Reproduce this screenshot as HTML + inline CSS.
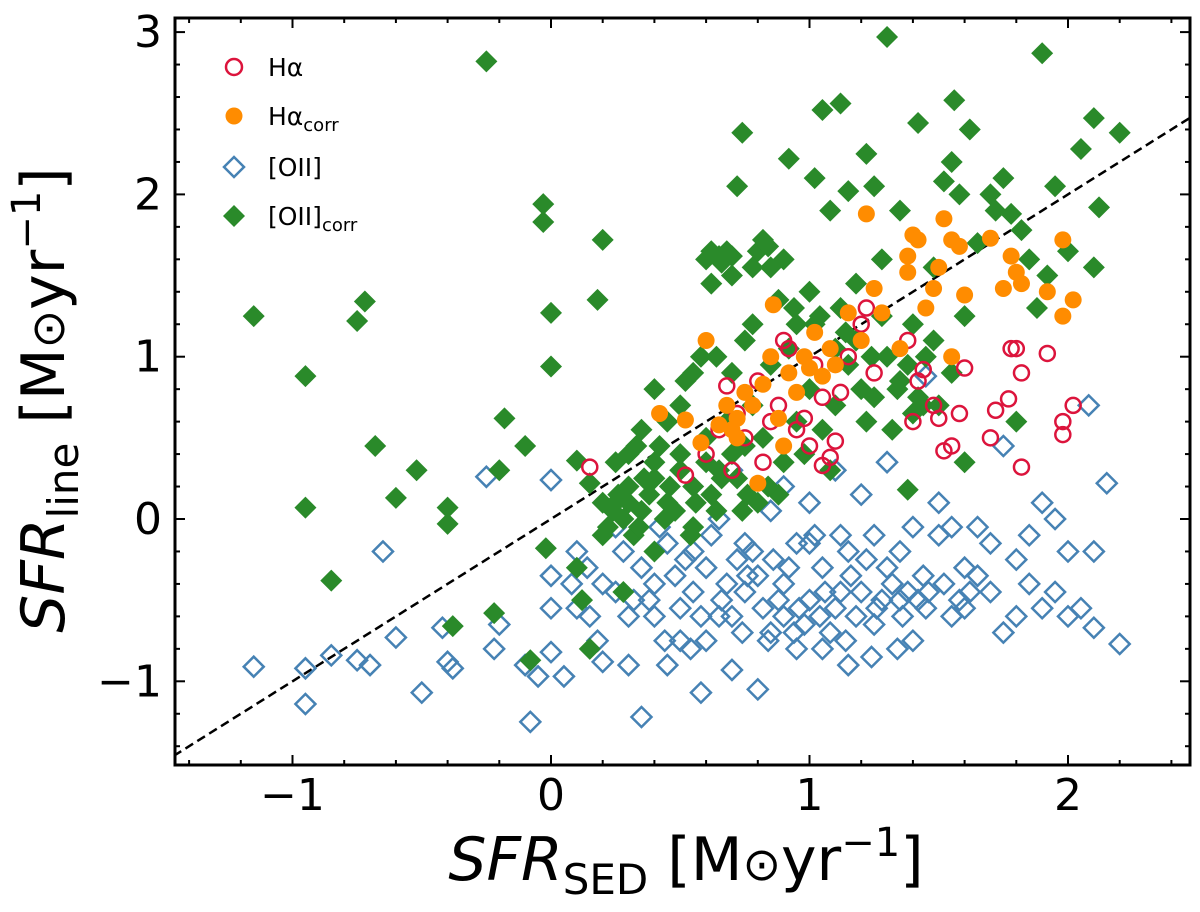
<!DOCTYPE html>
<html><head><meta charset="utf-8"><style>
body{margin:0;background:#fff;}
svg{display:block;font-family:"DejaVu Sans","Liberation Sans",sans-serif;}
</style></head><body>
<svg id="chart" width="1200" height="912" viewBox="0 0 1200 912" xmlns="http://www.w3.org/2000/svg">
<g id="marks"></g>
<g id="axes"></g>
<text transform="translate(64,400) rotate(-90)" text-anchor="middle" font-size="60"><tspan font-style="italic">SFR</tspan><tspan font-size="42" dy="14">line</tspan><tspan dy="-14"> [M</tspan><tspan font-size="46">⊙</tspan><tspan>yr</tspan><tspan font-size="40" dy="-24">−1</tspan><tspan dy="24">]</tspan></text>
<text x="686" y="880" text-anchor="middle" font-size="60"><tspan font-style="italic">SFR</tspan><tspan font-size="42" dy="14">SED</tspan><tspan dy="-14"> [M</tspan><tspan font-size="46">⊙</tspan><tspan>yr</tspan><tspan font-size="40" dy="-24">−1</tspan><tspan dy="24">]</tspan></text>
<g font-size="25">
  <circle cx="234" cy="67" r="8" fill="none" stroke="#dc143c" stroke-width="2.5"/>
  <text x="268" y="76">Hα</text>
  <circle cx="234" cy="116" r="8.5" fill="#ff8c00"/>
  <text x="268" y="125">Hα<tspan font-size="18" dy="6">corr</tspan></text>
  <path d="M234,157 l10,10 l-10,10 l-10,-10 z" fill="none" stroke="#4682b4" stroke-width="2.5"/>
  <text x="268" y="176">[OII]</text>
  <path d="M234,205 l11,11 l-11,11 l-11,-11 z" fill="#2a8a2a"/>
  <text x="268" y="225">[OII]<tspan font-size="18" dy="6">corr</tspan></text>
</g>
</svg>
<script>
const xTicks=[-1,0,1,2];
const yTicks=[-1,0,1,2,3];
const oiiX=[-1.15,-0.95,-0.95,-0.85,-0.75,-0.7,-0.65,-0.6,-0.5,-0.42,-0.4,-0.38,-0.22,-0.2,-0.25,-0.1,-0.08,-0.05,0,0,0,0,0.05,0.1,0.15,0.2,0.25,0.3,0.35,0.4,0.45,0.5,0.55,0.58,0.6,0.65,0.7,0.75,0.8,0.85,0.9,0.95,1.0,1.05,1.1,1.15,1.2,1.25,1.3,1.35,1.4,1.45,1.5,1.55,1.6,1.65,1.7,1.75,1.8,1.85,1.9,1.95,2.0,2.05,2.1,2.15,2.2,2.08,1.45,1.75,1.8,1.35,1.25,1.15,1.05,0.95,0.85,0.75,0.65,0.55,0.45,0.35,0.25,0.8,0.9,1.0,1.2,1.4,1.6,1.7,0.7,0.6,0.5,0.4,0.3,0.2,0.1,1.1,1.3,1.5,0.9,0.7,1.0,1.9,2.0,1.55,1.65,1.85,1.95,2.1,1.42,1.38,1.12,0.98,0.88,0.78,0.68,0.58,0.48,0.38,0.28,1.28,1.18,1.08,0.62,0.72,0.82,0.92,1.02,1.12,1.22,1.32,0.52,0.42,0.66,0.76,0.86,0.96,1.06,1.16,1.26,1.36,1.46,0.18,0.08,0.14,0.32,0.44,0.54,0.74,0.84,0.94,1.04,1.14,1.24,1.34,1.44,1.52,1.58,1.62];
const oiiY=[-0.91,-0.92,-1.14,-0.84,-0.87,-0.9,-0.2,-0.73,-1.07,-0.67,-0.88,-0.92,-0.8,-0.65,0.26,-0.9,-1.25,-0.97,0.24,-0.35,-0.55,-0.82,-0.97,-0.2,-0.6,-0.88,-0.45,-0.9,-1.22,-0.6,-0.9,-0.75,-0.45,-1.07,-0.3,-0.6,-0.93,-0.45,-1.05,-0.7,-0.4,-0.8,-0.15,-0.8,-0.55,-0.9,-0.45,-0.65,-0.3,-0.5,-0.75,-0.55,-0.1,-0.6,-0.3,-0.05,-0.45,-0.7,-0.25,-0.4,0.1,-0.45,-0.2,-0.55,-0.67,0.22,-0.77,0.7,0.88,0.45,-0.6,-0.2,-0.1,-0.2,-0.3,-0.15,0.05,-0.15,0.0,-0.2,-0.15,-0.3,-0.05,-0.35,-0.6,-0.5,0.15,-0.05,-0.55,-0.15,-0.6,-0.75,-0.55,-0.4,-0.6,-0.4,-0.55,0.3,0.35,0.1,0.2,0.3,0.1,-0.55,-0.6,-0.05,-0.35,-0.1,0.0,-0.2,-0.5,-0.45,-0.1,-0.65,-0.5,-0.2,-0.4,-0.6,-0.35,-0.5,-0.2,-0.5,-0.6,-0.7,-0.1,-0.25,-0.55,-0.3,-0.1,-0.45,-0.25,-0.4,-0.25,-0.05,-0.5,-0.35,-0.25,-0.55,-0.45,-0.35,-0.55,-0.6,-0.45,-0.75,-0.4,-0.3,-0.5,-0.75,-0.8,-0.7,-0.75,-0.7,-0.6,-0.75,-0.85,-0.8,-0.35,-0.4,-0.5,-0.45];
const oiiCorrX=[-1.15,-0.95,-0.95,-0.85,-0.75,-0.72,-0.68,-0.6,-0.52,-0.4,-0.4,-0.38,-0.25,-0.22,-0.2,-0.18,-0.1,-0.08,-0.03,-0.03,-0.02,0,0,0.1,0.1,0.12,0.15,0.15,0.18,0.2,0.2,0.25,0.28,0.3,0.35,0.4,0.4,0.45,0.5,0.55,0.55,0.6,0.62,0.65,0.68,0.7,0.72,0.74,0.75,0.78,0.8,0.82,0.85,0.88,0.9,0.92,0.95,0.95,1.0,1.02,1.05,1.08,1.1,1.12,1.15,1.18,1.2,1.22,1.25,1.28,1.3,1.35,1.38,1.4,1.42,1.45,1.48,1.52,1.55,1.56,1.58,1.6,1.62,1.65,1.7,1.72,1.75,1.78,1.8,1.82,1.85,1.88,1.9,1.92,1.95,2.0,2.05,2.1,2.1,2.12,2.2,0.3,0.35,0.4,0.45,0.5,0.55,0.6,0.65,0.7,0.75,0.8,0.85,0.9,1.0,1.05,1.1,1.15,1.25,1.3,1.35,1.4,1.5,0.28,0.32,0.38,0.42,0.48,0.52,0.58,0.62,0.68,0.72,0.78,0.82,0.88,0.92,0.98,1.02,1.08,1.12,1.18,1.22,1.28,1.32,1.38,1.42,1.48,1.55,1.6,0.2,0.22,0.25,0.33,0.26,0.36,0.46,0.56,0.66,0.76,0.34,0.44,0.54,0.64,0.74,0.84,0.24,0.3,0.4,0.5,0.6,0.7,0.62,0.66,0.7,0.78,0.84,0.64,0.94,1.04,1.14,1.24,1.34,1.44];
const oiiCorrY=[1.25,0.88,0.07,-0.38,1.22,1.34,0.45,0.13,0.3,0.07,-0.03,-0.66,2.82,-0.58,0.3,0.62,0.45,-0.87,1.94,1.83,-0.18,1.27,0.94,0.36,-0.3,-0.5,-0.8,0.22,1.35,1.72,-0.1,0.1,-0.45,0.4,0.55,0.8,-0.2,0.1,0.3,0.9,-0.05,1.6,1.45,1.62,1.65,1.5,2.05,2.38,1.1,0.7,1.65,1.72,1.55,1.35,1.6,2.22,1.2,0.6,1.4,2.1,2.52,1.9,1.05,2.56,2.02,1.45,0.8,2.25,2.05,1.6,2.97,1.9,0.18,1.2,2.44,1.0,1.55,2.08,2.2,2.58,2.0,1.25,2.4,1.7,2.0,1.9,2.1,1.88,0.6,1.78,1.6,1.3,2.87,1.5,2.05,1.65,2.28,1.55,2.47,1.92,2.38,0.2,0.05,0.35,0.6,0.7,0.2,0.5,0.3,0.9,0.45,0.1,0.95,0.35,0.8,0.55,0.7,0.95,0.75,1.0,0.85,0.65,0.7,0.0,-0.1,0.15,0.45,0.05,0.85,1.0,0.15,0.6,0.25,1.2,0.5,0.15,1.05,0.4,1.2,0.3,1.3,1.1,0.6,1.25,0.55,0.95,0.75,1.1,0.9,0.35,0.1,-0.05,0.35,0.45,0.15,0.25,0.2,0.1,0.25,0.15,-0.05,0.0,-0.1,0.05,0.05,0.2,0.05,0.1,0.25,0.4,0.35,0.4,1.65,1.58,1.62,1.55,1.68,1.0,1.3,1.25,1.15,1.0,0.8,0.7];
const haX=[0.15,0.52,0.6,0.65,0.68,0.7,0.72,0.75,0.8,0.82,0.85,0.88,0.9,0.92,0.95,0.98,1.0,1.02,1.05,1.05,1.08,1.1,1.12,1.15,1.2,1.22,1.25,1.38,1.4,1.42,1.44,1.48,1.5,1.52,1.55,1.58,1.6,1.7,1.72,1.77,1.78,1.82,1.82,1.92,1.98,1.98,2.02,1.8];
const haY=[0.32,0.27,0.4,0.55,0.82,0.3,0.65,0.5,0.85,0.35,0.6,0.7,1.1,1.05,0.55,0.62,0.45,0.95,0.75,0.33,0.38,0.48,0.78,1.0,1.2,1.3,0.9,1.1,0.6,0.85,0.92,0.7,0.62,0.42,0.45,0.65,0.93,0.5,0.67,0.74,1.05,0.9,0.32,1.02,0.52,0.6,0.7,1.05];
const haCorrX=[0.42,0.52,0.58,0.6,0.65,0.68,0.7,0.72,0.72,0.75,0.78,0.8,0.82,0.85,0.86,0.88,0.9,0.92,0.95,0.98,1.0,1.02,1.05,1.08,1.1,1.15,1.2,1.25,1.28,1.22,1.38,1.38,1.4,1.42,1.45,1.48,1.5,1.52,1.55,1.58,1.6,1.7,1.75,1.78,1.8,1.82,1.92,1.98,1.98,2.02,1.35,1.55];
const haCorrY=[0.65,0.61,0.47,1.1,0.58,0.7,0.55,0.5,0.62,0.78,0.7,0.22,0.83,1.0,1.32,0.62,0.45,0.9,0.78,1.0,0.93,1.15,0.88,1.05,0.95,1.27,1.1,1.42,1.27,1.88,1.62,1.52,1.75,1.72,1.3,1.42,1.55,1.85,1.72,1.68,1.38,1.73,1.42,1.62,1.52,1.45,1.4,1.72,1.25,1.35,1.05,1.0];

const L=175,R=1190,T=18,B=765;
const xs=v=>551+v*258.5, ys=v=>519-v*162.3;
const NS='http://www.w3.org/2000/svg';
const marks=document.getElementById('marks'), axes=document.getElementById('axes');
function mk(tag,attrs,parent){const e=document.createElementNS(NS,tag);for(const k in attrs)e.setAttribute(k,attrs[k]);parent.appendChild(e);return e;}
const clip=mk('clipPath',{id:'pc'},marks);mk('rect',{x:L,y:T,width:R-L,height:B-T},clip);
const g=mk('g',{'clip-path':'url(#pc)'},marks);
const x0=-1.46,x1=2.5;
const diag=mk('line',{x1:xs(x0),y1:ys(x0),x2:xs(x1),y2:ys(x1),stroke:'#000','stroke-width':2.5,'stroke-dasharray':'9,5'},g);


function diamond(cx,cy,r){return `M${cx},${cy-r} L${cx+r},${cy} L${cx},${cy+r} L${cx-r},${cy} Z`;}
oiiX.forEach((v,i)=>{const p=mk('path',{d:diamond(xs(v),ys(oiiY[i]),10),fill:'none',stroke:'#4682b4','stroke-width':2.5},g);

});
oiiCorrX.forEach((v,i)=>{const p=mk('path',{d:diamond(xs(v),ys(oiiCorrY[i]),11),fill:'#2a8a2a'},g);

});
haX.forEach((v,i)=>{const p=mk('circle',{cx:xs(v),cy:ys(haY[i]),r:7.5,fill:'none',stroke:'#dc143c','stroke-width':2.5},g);

});
haCorrX.forEach((v,i)=>{const p=mk('circle',{cx:xs(v),cy:ys(haCorrY[i]),r:8.5,fill:'#ff8c00'},g);

});
const fr=mk('rect',{x:L,y:T,width:R-L,height:B-T,fill:'none',stroke:'#000','stroke-width':3},axes);


for(let k=-15;k<=25;k++){const v=k/10;if(Math.abs(k%2)===1)continue;const px=xs(v);if(px<L||px>R)continue;const maj=k%10===0;const len=maj?10:5;
mk('line',{x1:px,y1:B,x2:px,y2:B-len,stroke:'#000','stroke-width':2},axes);mk('line',{x1:px,y1:T,x2:px,y2:T+len,stroke:'#000','stroke-width':2},axes);}
for(let k=-16;k<=32;k+=2){const v=k/10;const py=ys(v);if(py<T||py>B)continue;const maj=k%10===0;const len=maj?10:5;
mk('line',{x1:L,y1:py,x2:L+len,y2:py,stroke:'#000','stroke-width':2},axes);mk('line',{x1:R,y1:py,x2:R-len,y2:py,stroke:'#000','stroke-width':2},axes);}
const fmt=v=>v<0?'−'+Math.abs(v):String(v);
xTicks.forEach(v=>{const t=mk('text',{x:xs(v),y:810,'text-anchor':'middle','font-size':44},axes);t.textContent=fmt(v);

});
yTicks.forEach(v=>{const t=mk('text',{x:162,y:ys(v)+15,'text-anchor':'end','font-size':44},axes);t.textContent=fmt(v);

});
</script>
</body></html>
